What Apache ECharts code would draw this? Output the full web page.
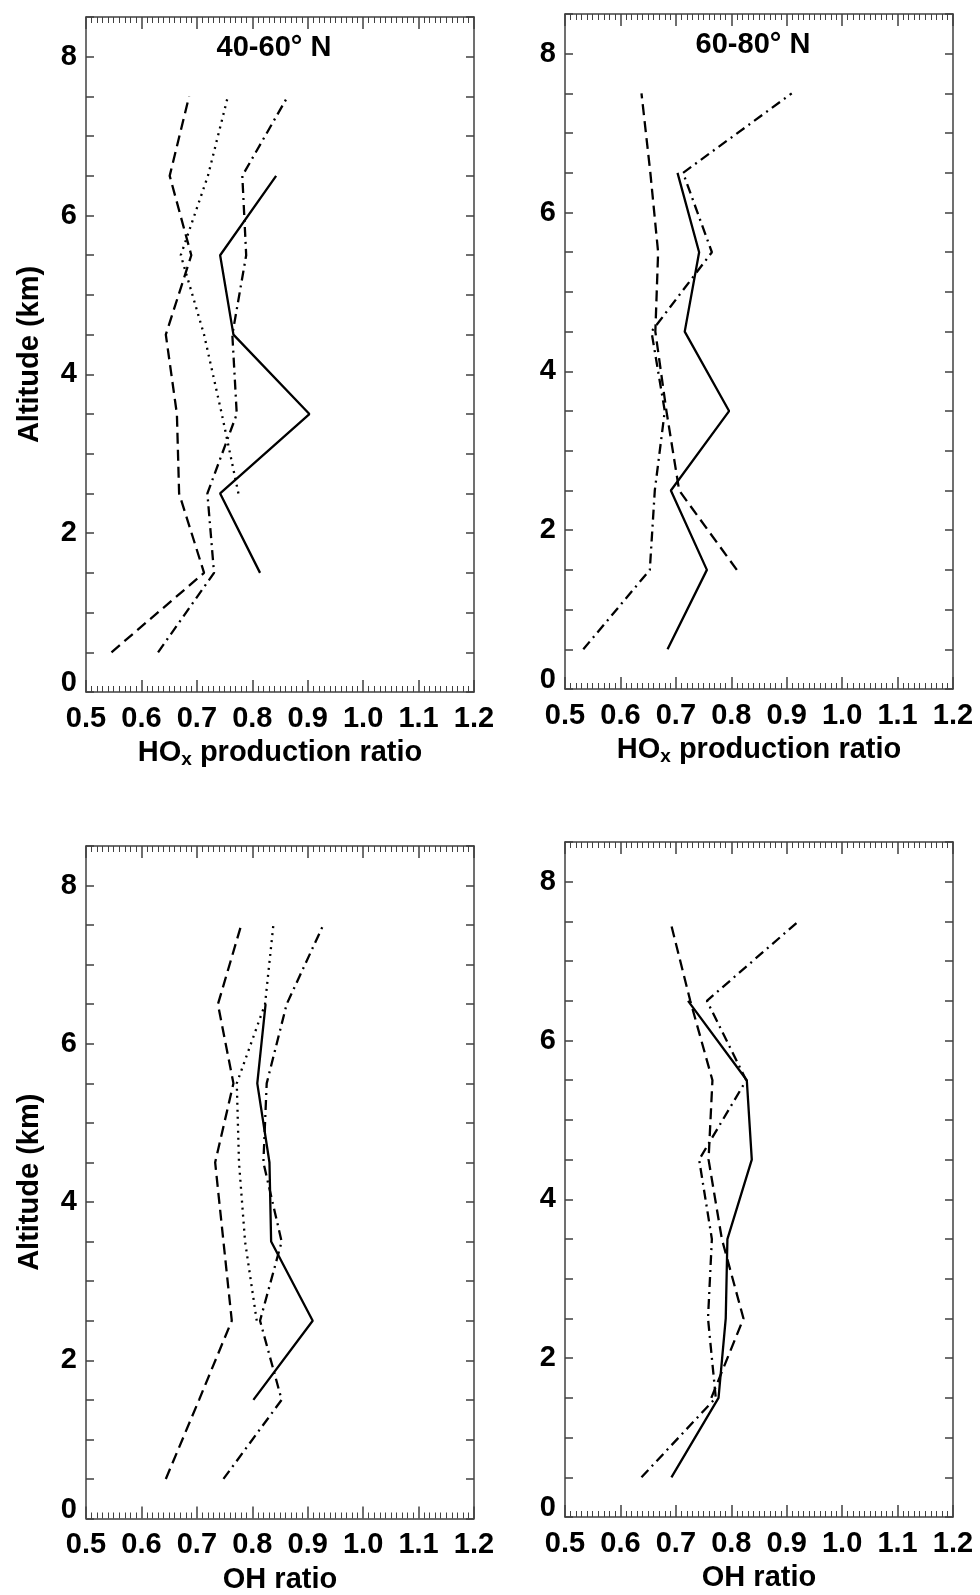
<!DOCTYPE html>
<html>
<head>
<meta charset="utf-8">
<script src="https://cdn.jsdelivr.net/npm/echarts@6/dist/echarts.min.js"></script>
<style>
html,body{margin:0;padding:0;background:#ffffff;}
#chart{width:980px;height:1595px;}
</style>
</head>
<body>
<div id="chart"></div>
<script>
// ---------------- data ----------------
const altitudes = [0.5, 1.5, 2.5, 3.5, 4.5, 5.5, 6.5, 7.5];
const xTicks = [0.5, 0.6, 0.7, 0.8, 0.9, 1.0, 1.1, 1.2];
const yTickLabels = [0, 2, 4, 6, 8];
const panelTitles = ['40-60° N', '60-80° N', '', ''];

// Panel 1: 40-60N, HOx production ratio
const hox4060Solid   = [null, 0.814, 0.742, 0.903, 0.766, 0.742, 0.843, null];
const hox4060Dashed  = [0.546, 0.713, 0.668, 0.664, 0.644, 0.690, 0.651, 0.686];
const hox4060Dotted  = [null, null, 0.775, 0.745, 0.713, 0.671, 0.720, 0.756];
const hox4060DashDot = [0.630, 0.731, 0.719, 0.772, 0.764, 0.789, 0.782, 0.864];

// Panel 2: 60-80N, HOx production ratio
const hox6080Solid   = [0.685, 0.756, 0.691, 0.796, 0.716, 0.742, 0.703, null];
const hox6080Dashed  = [null, 0.810, 0.706, 0.683, 0.663, 0.668, 0.654, 0.638];
const hox6080DashDot = [0.533, 0.653, 0.662, 0.680, 0.656, 0.765, 0.713, 0.909];

// Panel 3: 40-60N, OH ratio
const oh4060Solid   = [null, 0.802, 0.909, 0.834, 0.831, 0.809, 0.824, null];
const oh4060Dashed  = [0.644, 0.704, 0.763, 0.748, 0.733, 0.766, 0.738, 0.780];
const oh4060Dotted  = [null, null, 0.808, 0.787, 0.776, 0.772, 0.823, 0.838];
const oh4060DashDot = [0.748, 0.853, 0.814, 0.853, 0.820, 0.826, 0.862, 0.928];

// Panel 4: 60-80N, OH ratio
const oh6080Solid   = [0.692, 0.777, 0.790, 0.793, 0.837, 0.828, 0.722, null];
const oh6080Dashed  = [null, 0.764, 0.822, 0.783, 0.759, 0.766, 0.726, 0.690];
const oh6080DashDot = [0.638, 0.772, 0.758, 0.765, 0.742, 0.827, 0.756, 0.921];

// ---------------- styling ----------------
const FONT = '"Liberation Sans", Arial, Helvetica, sans-serif';
const AXIS_COLOR = '#404040';
const DASH = {
  solid: 'solid',
  dashed: [11, 6],
  dotted: [2, 5],
  dashdot: [10, 5, 2, 5]
};

const grids = [
  {left: 86,  top: 17,  width: 388, height: 675},
  {left: 565, top: 14,  width: 388, height: 675},
  {left: 86,  top: 846, width: 388, height: 674},
  {left: 565, top: 842, width: 388, height: 675}
];

const panels = [
  {xName: 'hox', yName: true,  lines: [[hox4060Solid,'solid'],[hox4060Dashed,'dashed'],[hox4060Dotted,'dotted'],[hox4060DashDot,'dashdot']]},
  {xName: 'hox', yName: false, lines: [[hox6080Solid,'solid'],[hox6080Dashed,'dashed'],[hox6080DashDot,'dashdot']]},
  {xName: 'oh',  yName: true,  lines: [[oh4060Solid,'solid'],[oh4060Dashed,'dashed'],[oh4060Dotted,'dotted'],[oh4060DashDot,'dashdot']]},
  {xName: 'oh',  yName: false, lines: [[oh6080Solid,'solid'],[oh6080Dashed,'dashed'],[oh6080DashDot,'dashdot']]}
];

const nameRich = {
  a: {fontSize: 29, fontWeight: 'bold', fontFamily: FONT, color: '#000', lineHeight: 32},
  s: {fontSize: 19, fontWeight: 'bold', fontFamily: FONT, color: '#000', lineHeight: 10, verticalAlign: 'bottom'}
};

const xAxes = [], yAxes = [], series = [];

panels.forEach((p, i) => {
  const lineStyle = {color: AXIS_COLOR, width: 1.5};
  const common = {
    gridIndex: i, type: 'value', min: xTicks[0], max: xTicks[xTicks.length - 1], interval: 0.1,
    axisLine: {show: true, onZero: false, lineStyle: lineStyle},
    axisTick: {show: true, inside: true, length: 12, lineStyle: lineStyle},
    minorTick: {show: true, splitNumber: 10, length: 6, lineStyle: {color: AXIS_COLOR, width: 1}},
    splitLine: {show: false}, minorSplitLine: {show: false}
  };
  xAxes.push(Object.assign({}, common, {
    position: 'bottom',
    axisLabel: {show: true, margin: 12, color: '#000', fontSize: 29, fontWeight: 'bold', fontFamily: FONT,
      formatter: v => v.toFixed(1)},
    name: p.xName === 'hox' ? '{a|HO}{s|x}{a| production ratio}' : '{a|OH ratio}',
    nameLocation: 'middle', nameGap: 45,
    nameTextStyle: {rich: nameRich}
  }));
  xAxes.push(Object.assign({}, common, {position: 'top', axisLabel: {show: false}}));

  const yCommon = {
    gridIndex: i, type: 'value', min: 0, max: 8.5, interval: 0.5,
    axisLine: {show: true, onZero: false, lineStyle: lineStyle},
    axisTick: {show: true, inside: true, length: 8, lineStyle: lineStyle},
    splitLine: {show: false}
  };
  yAxes.push(Object.assign({}, yCommon, {
    position: 'left',
    axisLabel: {show: true, margin: 9, color: '#000', fontSize: 29, fontWeight: 'bold', fontFamily: FONT,
      formatter: v => {
        if (v === 0) return '{z|0}';
        return yTickLabels.indexOf(v) >= 0 ? String(v) : '';
      },
      rich: {z: {fontSize: 29, fontWeight: 'bold', fontFamily: FONT, color: '#000', padding: [0, 0, 18, 0]}}
    },
    name: p.yName ? 'Altitude (km)' : '',
    nameLocation: 'middle', nameGap: 42, nameRotate: 90,
    nameTextStyle: {fontSize: 29, fontWeight: 'bold', fontFamily: FONT, color: '#000'}
  }));
  yAxes.push(Object.assign({}, yCommon, {position: 'right', axisLabel: {show: false}}));

  p.lines.forEach(([vals, kind]) => {
    const data = [];
    vals.forEach((v, k) => { if (v !== null) data.push([v, altitudes[k]]); });
    series.push({
      type: 'line', xAxisIndex: 2 * i, yAxisIndex: 2 * i, data: data,
      showSymbol: false, symbol: 'none', silent: true,
      lineStyle: {color: '#000', width: 2.3, type: DASH[kind]}
    });
  });
});

const graphics = [];
panelTitles.forEach((t, i) => {
  if (!t) return;
  graphics.push({
    type: 'text',
    x: grids[i].left + 188,
    y: grids[i].top + 31,
    style: {text: t, fill: '#000', font: 'bold 29px ' + FONT, textAlign: 'center', textVerticalAlign: 'middle'}
  });
});

const chart = echarts.init(document.getElementById('chart'), null, {renderer: 'canvas'});
chart.setOption({
  animation: false,
  backgroundColor: '#ffffff',
  grid: grids,
  xAxis: xAxes,
  yAxis: yAxes,
  series: series,
  graphic: graphics
});
</script>
</body>
</html>
